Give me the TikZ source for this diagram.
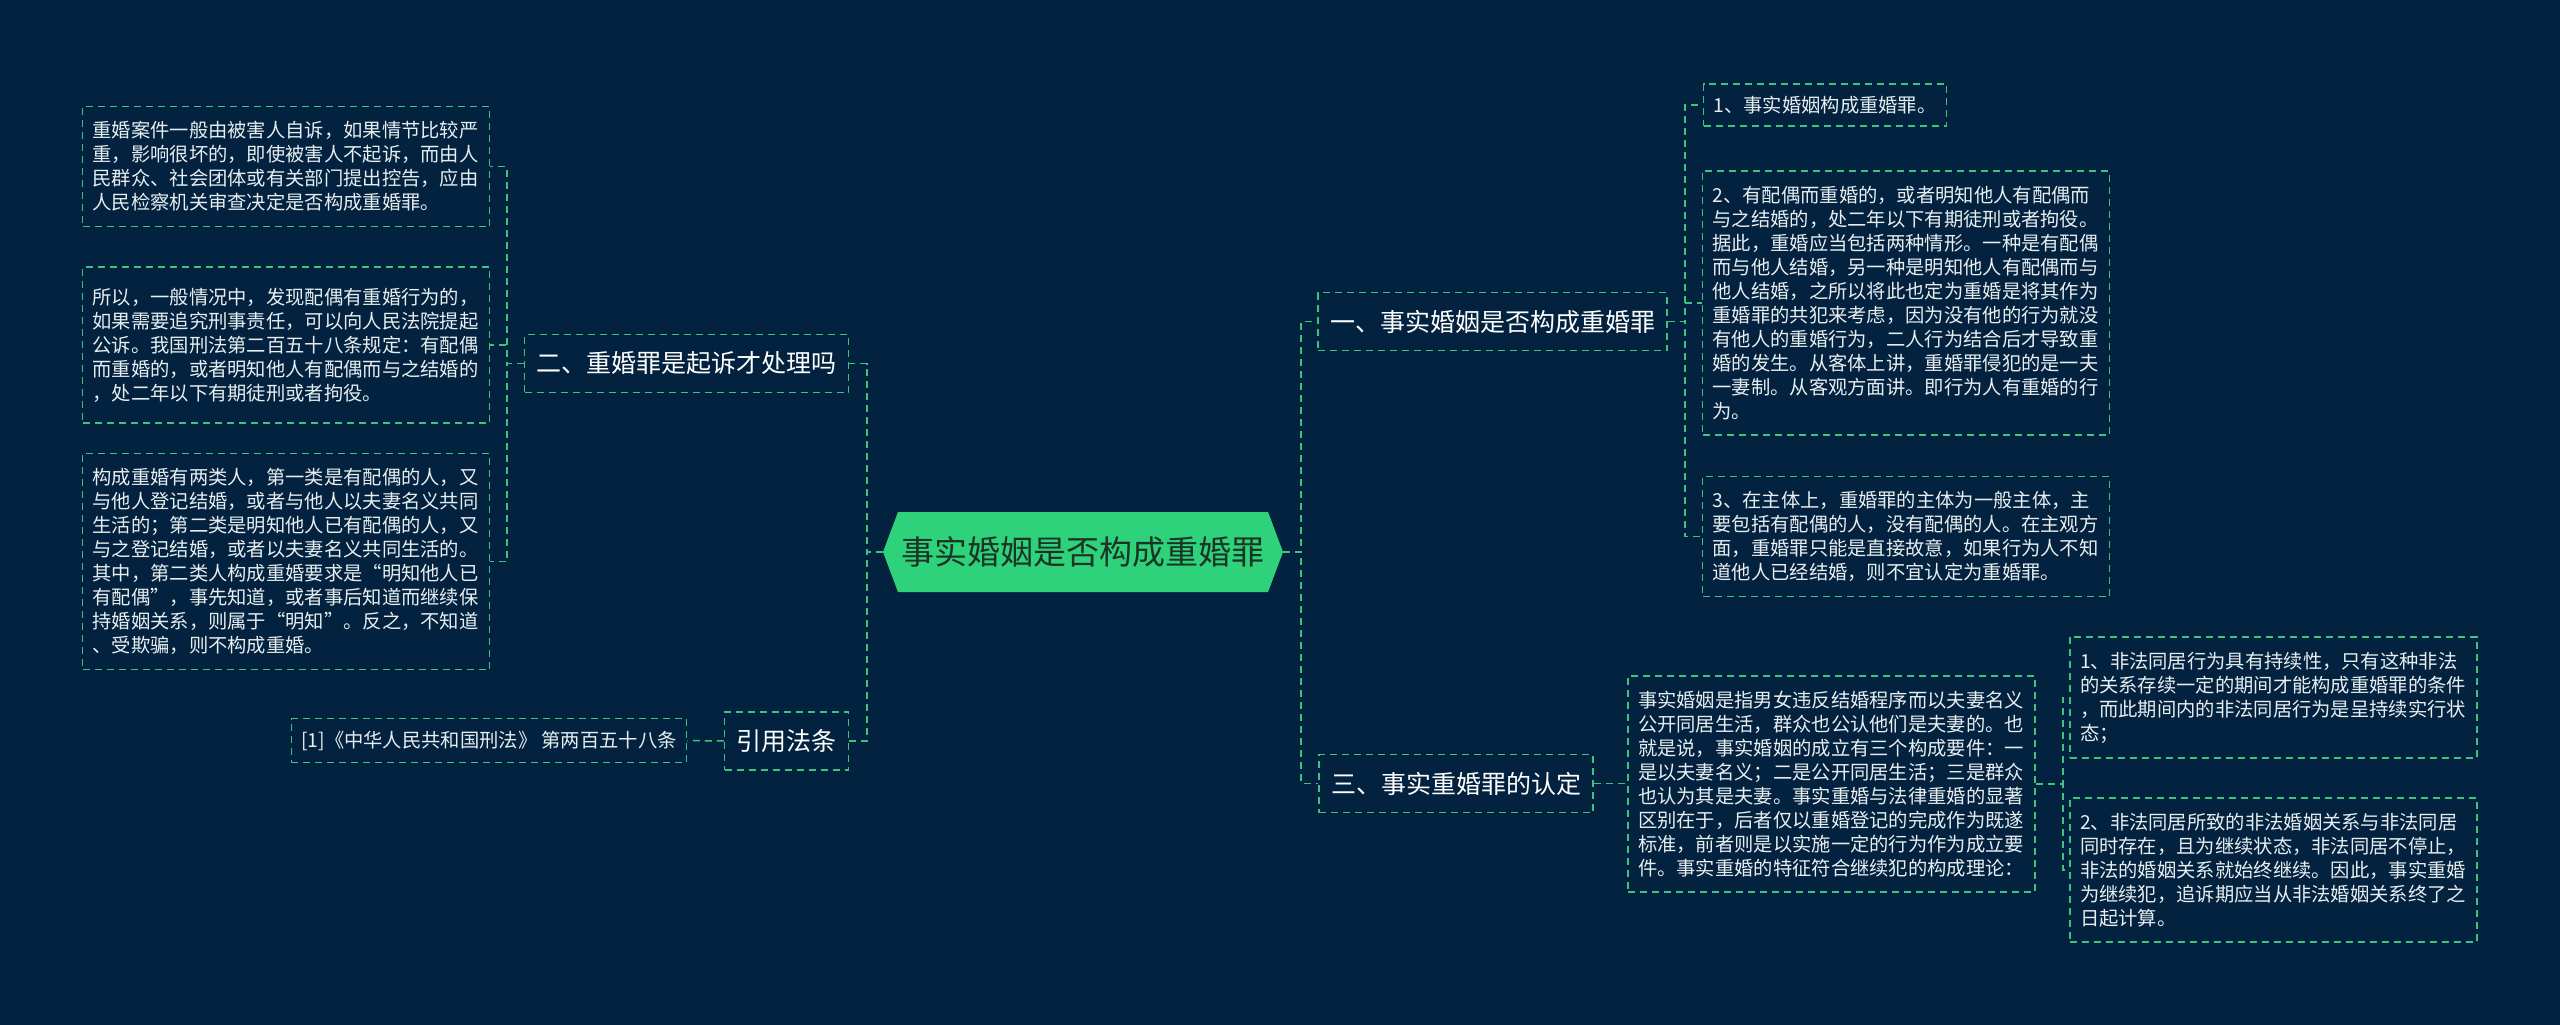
\documentclass[tikz,border=0pt]{standalone}
\usepackage{fontspec}
\setmainfont{Noto Sans CJK SC}
\usetikzlibrary{shapes.symbols,positioning}
\definecolor{bgnavy}{RGB}{2,34,63}
\definecolor{mintgreen}{RGB}{46,210,122}
\definecolor{dashgreen}{RGB}{60,196,124}
\definecolor{leaftext}{RGB}{232,238,240}
\definecolor{topictext}{RGB}{28,52,40}

\begin{document}
\begin{tikzpicture}[x=1pt,y=-1pt,
    topic/.style={
        shape=signal,
        signal to=west and east,
        signal pointer angle=139,
        fill=mintgreen,
        text=topictext,
        minimum width=400pt,
        minimum height=80pt,
        inner sep=0pt,
        font=\fontsize{33}{40}\selectfont
        },
    subtopic/.style={
        draw=dashgreen,
        line width=1.5pt,
        dash pattern=on 7pt off 5pt,
        text=white,
        minimum height=58pt,
        inner xsep=12pt,
        font=\fontsize{25}{30}\selectfont
        },
    detail/.style={
        draw=dashgreen,
        line width=1.5pt,
        dash pattern=on 7pt off 5pt,
        text=leaftext,
        align=left,
        inner xsep=10pt,
        inner ysep=15pt,
        font=\fontsize{19.3}{24}\selectfont
        },
    wide/.style={text width=387pt},
    link/.style={
        draw=dashgreen,
        line width=1.5pt,
        dash pattern=on 7pt off 5pt
        },
  ]
  \fill[bgnavy] (0,0) rectangle (2560,1025);
  \useasboundingbox (0,0) rectangle (2560,1025);
  % Topic
  \node[topic] (top) at (1083,552) {事实婚姻是否构成重婚罪};
  % Subtopics
  \node[subtopic] (sub1) at (1492.5,321.5) {一、事实婚姻是否构成重婚罪};
  \node[subtopic] (sub2) at (686.5,363.5) {二、重婚罪是起诉才处理吗};
  \node[subtopic] (sub3) at (1456,783.5) {三、事实重婚罪的认定};
  \node[subtopic] (law) at (786.5,741) {引用法条};
  % Left details
  \node[detail, wide] (l1) at (286,166.5) {重婚案件一般由被害人自诉，如果情节比较严\\
    重，影响很坏的，即使被害人不起诉，而由人\\
    民群众、社会团体或有关部门提出控告，应由\\
    人民检察机关审查决定是否构成重婚罪。};
  \node[detail, wide, minimum height=156pt] (l2) at (286,345) {所以，一般情况中，发现配偶有重婚行为的，\\
    如果需要追究刑事责任，可以向人民法院提起\\
    公诉。我国刑法第二百五十八条规定：有配偶\\
    而重婚的，或者明知他人有配偶而与之结婚的\\
    ，处二年以下有期徒刑或者拘役。};
  \node[detail, wide] (l3) at (286,561.5) {构成重婚有两类人，第一类是有配偶的人，又\\
    与他人登记结婚，或者与他人以夫妻名义共同\\
    生活的；第二类是明知他人已有配偶的人，又\\
    与之登记结婚，或者以夫妻名义共同生活的。\\
    其中，第二类人构成重婚要求是“明知他人已\\
    有配偶”，事先知道，或者事后知道而继续保\\
    持婚姻关系，则属于“明知”。反之，不知道\\
    、受欺骗，则不构成重婚。};
  \node[detail, inner ysep=12pt] (cite) at (489,740.5) {[1]《中华人民共和国刑法》 第两百五十八条};
  % Right details
  \node[detail, inner ysep=12pt] (c1) at (1825,105) {1、事实婚姻构成重婚罪。};
  \node[detail, wide] (c2) at (1906,303) {2、有配偶而重婚的，或者明知他人有配偶而\\
    与之结婚的，处二年以下有期徒刑或者拘役。\\
    据此，重婚应当包括两种情形。一种是有配偶\\
    而与他人结婚，另一种是明知他人有配偶而与\\
    他人结婚，之所以将此也定为重婚是将其作为\\
    重婚罪的共犯来考虑，因为没有他的行为就没\\
    有他人的重婚行为，二人行为结合后才导致重\\
    婚的发生。从客体上讲，重婚罪侵犯的是一夫\\
    一妻制。从客观方面讲。即行为人有重婚的行\\
    为。};
  \node[detail, wide] (c3) at (1906,536.5) {3、在主体上，重婚罪的主体为一般主体，主\\
    要包括有配偶的人，没有配偶的人。在主观方\\
    面，重婚罪只能是直接故意，如果行为人不知\\
    道他人已经结婚，则不宜认定为重婚罪。};
  \node[detail, wide] (fact) at (1831.5,784) {事实婚姻是指男女违反结婚程序而以夫妻名义\\
    公开同居生活，群众也公认他们是夫妻的。也\\
    就是说，事实婚姻的成立有三个构成要件：一\\
    是以夫妻名义；二是公开同居生活；三是群众\\
    也认为其是夫妻。事实重婚与法律重婚的显著\\
    区别在于，后者仅以重婚登记的完成作为既遂\\
    标准，前者则是以实施一定的行为作为成立要\\
    件。事实重婚的特征符合继续犯的构成理论：};
  \node[detail, wide] (d1) at (2273.5,697.5) {1、非法同居行为具有持续性，只有这种非法\\
    的关系存续一定的期间才能构成重婚罪的条件\\
    ，而此期间内的非法同居行为是呈持续实行状\\
    态；};
  \node[detail, wide] (d2) at (2273.5,870) {2、非法同居所致的非法婚姻关系与非法同居\\
    同时存在，且为继续状态，非法同居不停止，\\
    非法的婚姻关系就始终继续。因此，事实重婚\\
    为继续犯，追诉期应当从非法婚姻关系终了之\\
    日起计算。};
  % Connectors
  \foreach \sub in {sub1,sub3}
    \draw[link] (top.east) -- ++(18pt,0) |- (\sub.west);
  \foreach \sub in {sub2,law}
    \draw[link] (top.west) -- ++(-16pt,0) |- (\sub.east);
  \foreach \leaf in {l1,l2,l3}
    \draw[link] (sub2.west) -- ++(-17pt,0) |- (\leaf.east);
  \foreach \leaf in {c1,c2,c3}
    \draw[link] (sub1.east) -- ++(17pt,0) |- (\leaf.west);
  \foreach \leaf in {d1,d2}
    \draw[link] (fact.east) -- ++(27pt,0) |- (\leaf.west);
  \draw[link] (law.west) -- (cite.east);
  \draw[link] (sub3.east) -- (sub3.east -| fact.west);
\end{tikzpicture}
\end{document}
